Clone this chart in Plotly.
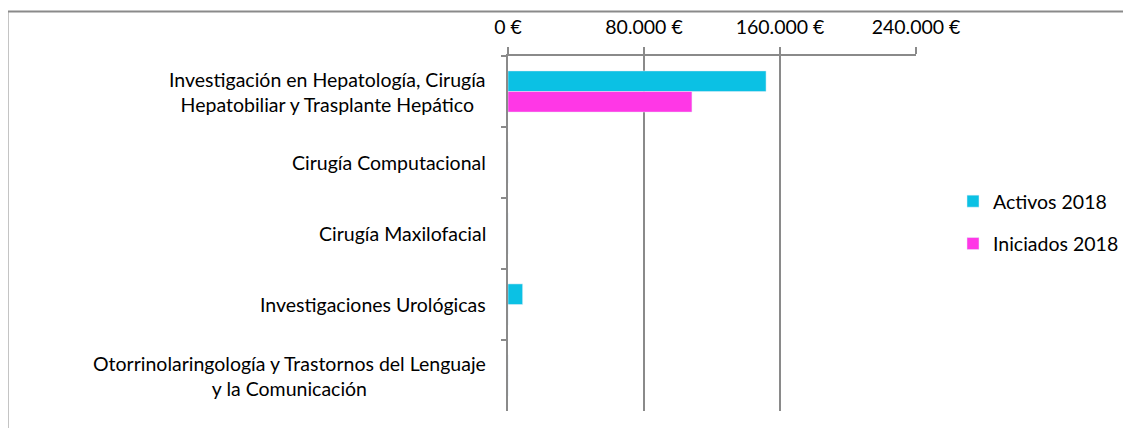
import plotly.graph_objects as go

categorias = [
    "Investigación en Hepatología, Cirugía<br>Hepatobiliar y Trasplante Hepático",
    "Cirugía Computacional",
    "Cirugía Maxilofacial",
    "Investigaciones Urológicas",
    "Otorrinolaringología y Trastornos del Lenguaje<br>y la Comunicación",
]
activos_2018 = [151800, 0, 0, 8600, 0]
iniciados_2018 = [108200, 0, 0, 0, 0]
ticks_x = [0, 80000, 160000, 240000]
ticks_x_texto = ["0 €", "80.000 €", "160.000 €", "240.000 €"]

FUENTE = "Lato, Carlito, Calibri, sans-serif"
GRIS = "#8a8a8a"
TAM = 19.5

# la página deja un margen de 8 px alrededor de la figura
OFF = 8
W, H = 1131 - OFF, 428 - OFF
L, T = 508 - OFF, 56 - OFF
PW, PH = 408, 355
R, B = W - L - PW, H - T - PH

fig = go.Figure()
fig.add_trace(go.Bar(
    y=categorias, x=activos_2018, orientation="h",
    name="Activos 2018", marker=dict(color="#0bc1e4"),
    legendgroup="a",
))
fig.add_trace(go.Bar(
    y=categorias, x=iniciados_2018, orientation="h",
    name="Iniciados 2018", marker=dict(color="#ff37e6"),
    legendgroup="b",
))

# etiquetas de categoría centradas (como en el original)
for c in categorias:
    fig.add_annotation(
        x=0, xref="paper", y=c, yref="y", text=c,
        showarrow=False, xanchor="right", xshift=-20, align="center",
        font=dict(family=FUENTE, size=TAM, color="#000000"),
    )

# marco exterior (solo superior e izquierdo visibles)
marco_x = (7.5 - 508) / PW
marco_y = 1 + (56 - 11.5) / PH
fig.add_shape(type="line", xref="paper", yref="paper",
              x0=marco_x, x1=(1140 - 508) / PW, y0=marco_y, y1=marco_y,
              line=dict(color=GRIS, width=2))
fig.add_shape(type="line", xref="paper", yref="paper",
              x0=marco_x, x1=marco_x, y0=-0.2, y1=marco_y,
              line=dict(color=GRIS, width=2))

fig.update_layout(
    width=W, height=H,
    margin=dict(l=L, r=R, t=T, b=B, autoexpand=False),
    paper_bgcolor="white", plot_bgcolor="white",
    barmode="group", bargap=0.42, bargroupgap=0,
    font=dict(family=FUENTE, size=TAM, color="#000000"),
    legend=dict(x=(953 - 508) / PW, y=0.531, xanchor="left", yanchor="middle",
                font=dict(size=TAM), tracegroupgap=14, traceorder="grouped",
                itemwidth=30),
    showlegend=True,
)
fig.update_xaxes(
    side="top", range=[0, 240000],
    tickvals=ticks_x, ticktext=ticks_x_texto,
    showgrid=True, gridcolor=GRIS, gridwidth=1.5,
    showline=True, linecolor=GRIS, linewidth=1.5,
    ticks="outside", ticklen=7, tickcolor=GRIS, tickwidth=1.5,
    zeroline=False, ticklabelstandoff=5,
)
fig.update_yaxes(
    autorange="reversed", showticklabels=False,
    showline=True, linecolor=GRIS, linewidth=1.5,
    ticks="outside", tickson="boundaries", ticklen=5,
    tickcolor=GRIS, tickwidth=1.5, showgrid=False,
)

fig.write_html("out.html")
